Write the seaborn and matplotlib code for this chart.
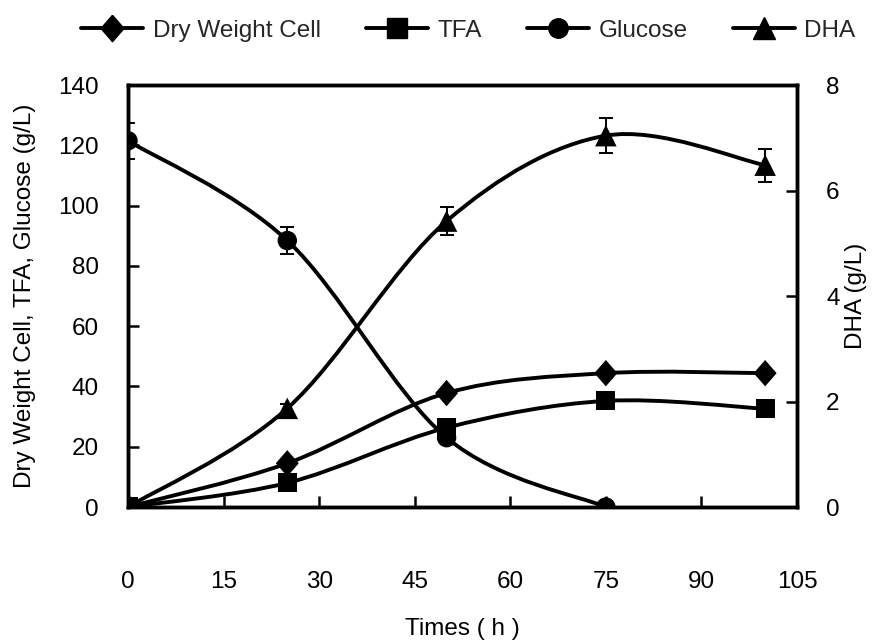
import numpy as np
import pandas as pd
import seaborn as sns
import matplotlib
matplotlib.use("Agg")
import matplotlib.pyplot as plt
from matplotlib.path import Path
from matplotlib.patches import PathPatch
from matplotlib.lines import Line2D

# Fermentation time course
time_h = [0, 25, 50, 75, 100]
dry_weight = [0.0, 14.5, 37.8, 44.4, 44.4]
dry_weight_err = [0.0, 0.6, 0.8, 1.5, 0.8]
tfa = [0.0, 8.0, 26.3, 35.2, 32.6]
tfa_err = [0.0, 0.5, 0.8, 0.8, 0.6]
glucose_time = [0, 25, 50, 75]
glucose = [121.5, 88.4, 23.0, 0.0]
glucose_err = [6.0, 4.5, 1.0, 0.0]
dha = [0.0, 1.87, 5.42, 7.04, 6.48]
dha_err = [0.0, 0.08, 0.27, 0.33, 0.31]

x_ticks = [0, 15, 30, 45, 60, 75, 90, 105]
left_ticks = [0, 20, 40, 60, 80, 100, 120, 140]
right_ticks = [0, 2, 4, 6, 8]

sns.set_theme(style="white")
plt.rcParams["font.family"] = ["Liberation Sans", "DejaVu Sans"]

FS = 17.5
LW = 2.8

fig = plt.figure(figsize=(8.92, 6.43), dpi=100)
ax = fig.add_axes([0.1435, 0.2115, 0.75, 0.6563])
ax2 = ax.twinx()


def smooth_path(xs, ys):
    """Cubic Bezier through the points (Catmull-Rom style tangents)."""
    pts = np.column_stack([xs, ys]).astype(float)
    n = len(pts)
    verts = [tuple(pts[0])]
    codes = [Path.MOVETO]
    for i in range(n - 1):
        p0 = pts[i - 1] if i > 0 else pts[i]
        p1 = pts[i]
        p2 = pts[i + 1]
        p3 = pts[i + 2] if i + 2 < n else pts[i + 1]
        c1 = p1 + (p2 - p0) / 6.0
        c2 = p2 - (p3 - p1) / 6.0
        verts += [tuple(c1), tuple(c2), tuple(p2)]
        codes += [Path.CURVE4] * 3
    return Path(verts, codes)


diamond = [(0, 1.15), (1, 0), (0, -1.15), (-1, 0), (0, 1.15)]

series_left = [
    ("Dry Weight Cell", time_h, dry_weight, dry_weight_err, diamond, 19),
    ("TFA", time_h, tfa, tfa_err, "s", 13.7),
    ("Glucose", glucose_time, glucose, glucose_err, "o", 14),
]

for name, xs, ys, es, mk, ms in series_left:
    ax.add_patch(PathPatch(smooth_path(xs, ys), fill=False, edgecolor="black",
                           lw=LW, capstyle="butt", zorder=3))
    ax.errorbar(xs, ys, yerr=es, fmt="none", ecolor="black", elinewidth=1.4,
                capsize=5, capthick=1.4, zorder=4)
    df = pd.DataFrame({"t": xs, "v": ys})
    sns.scatterplot(data=df, x="t", y="v", ax=ax, marker=mk, s=ms ** 2,
                    color="black", edgecolor="none", linewidth=0, zorder=5,
                    legend=False)

ax2.add_patch(PathPatch(smooth_path(time_h, dha), fill=False, edgecolor="black",
                        lw=LW, capstyle="butt", zorder=3))
ax2.errorbar(time_h, dha, yerr=dha_err, fmt="none", ecolor="black",
             elinewidth=1.4, capsize=5, capthick=1.4, zorder=4)
sns.scatterplot(data=pd.DataFrame({"t": time_h, "v": dha}), x="t", y="v",
                ax=ax2, marker="^", s=15.5 ** 2, color="black",
                edgecolor="none", linewidth=0, zorder=5, legend=False)

ax.set_xlim(0, 105)
ax.set_ylim(0, 140)
ax2.set_ylim(0, 8)
ax.set_xticks(x_ticks)
ax.set_yticks(left_ticks)
ax2.set_yticks(right_ticks)
ax.set_xticklabels([str(v) for v in x_ticks])
ax.set_yticklabels([str(v) for v in left_ticks])
ax2.set_yticklabels([str(v) for v in right_ticks])

for a in (ax, ax2):
    for s in a.spines.values():
        s.set_linewidth(2.5)
        s.set_color("black")
    a.set_facecolor("none")

ax.tick_params(axis="x", direction="in", length=8, width=1.8, pad=46,
               labelsize=FS, colors="black", bottom=True, top=False)
ax.tick_params(axis="y", direction="in", length=8, width=1.8, pad=21,
               labelsize=FS, colors="black", left=True, right=False)
ax2.tick_params(axis="y", direction="in", length=8, width=1.8, pad=21,
                labelsize=FS, colors="black", right=True, left=False)

ax.set_xlabel("Times ( h )", fontsize=FS, color="black", labelpad=18)
ax.set_ylabel("Dry Weight Cell, TFA, Glucose (g/L)", fontsize=FS,
              color="black", labelpad=16)
ax2.set_ylabel("DHA (g/L)", fontsize=FS, color="black", labelpad=4)

handles = [
    Line2D([], [], color="black", lw=LW, marker=diamond, markersize=19),
    Line2D([], [], color="black", lw=LW, marker="s", markersize=13.7),
    Line2D([], [], color="black", lw=LW, marker="o", markersize=14),
    Line2D([], [], color="black", lw=LW, marker="^", markersize=15.5),
]
fig.legend(handles, ["Dry Weight Cell", "TFA", "Glucose", "DHA"],
           loc="center", bbox_to_anchor=(0.525, 0.952), ncol=4, frameon=False,
           fontsize=FS, handlelength=2.55, handletextpad=0.4,
           columnspacing=1.85)

fig.savefig("out.png", dpi=100)
